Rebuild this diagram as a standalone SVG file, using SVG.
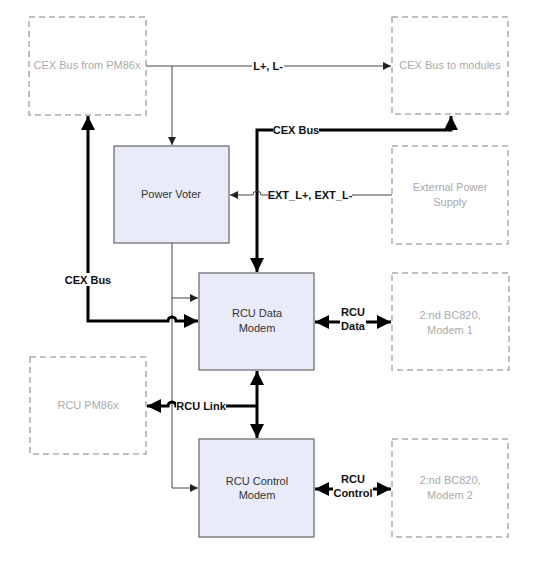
<svg xmlns="http://www.w3.org/2000/svg" width="549" height="575" viewBox="0 0 549 575">
<style>
.ext rect{fill:#fff;stroke:#aaa;stroke-width:1.5;stroke-dasharray:6,4}
.ext text{fill:#aaa;font-family:"Liberation Sans",Arial,sans-serif;font-size:11px;text-anchor:middle}
.mod rect{fill:#e9ecf8;stroke:#666;stroke-width:1.2}
.mod text{fill:#333;font-family:"Liberation Sans",Arial,sans-serif;font-size:11px;text-anchor:middle}
.thin{fill:none;stroke:#444;stroke-width:1}
.thick{fill:none;stroke:#000;stroke-width:3}
.lbl{font-family:"Liberation Sans",Arial,sans-serif;font-size:11px;font-weight:bold;fill:#111;text-anchor:middle}
.bg{fill:#fff}
</style>
<defs>
<marker id="as" viewBox="0 0 10 10" refX="10" refY="5" markerWidth="8" markerHeight="8" markerUnits="userSpaceOnUse" orient="auto-start-reverse"><path d="M0,0L10,5L0,10z" fill="#222"/></marker>
<marker id="al" viewBox="0 0 10 10" refX="10" refY="5" markerWidth="14" markerHeight="14" markerUnits="userSpaceOnUse" orient="auto-start-reverse"><path d="M0,0L10,5L0,10z" fill="#000"/></marker>
</defs>
<rect width="549" height="575" fill="#fff"/>
<g id="cex-from" class="ext"><rect x="29" y="17" width="117" height="98"/><text x="87" y="69">CEX Bus from PM86x</text></g>
<g id="cex-to" class="ext"><rect x="392" y="17" width="116" height="97"/><text x="450" y="69">CEX Bus to modules</text></g>
<g id="ext-power" class="ext"><rect x="392" y="146" width="116" height="98"/><text x="450" y="191">External Power</text><text x="450" y="206">Supply</text></g>
<g id="bc820-1" class="ext"><rect x="392" y="273" width="117" height="97"/><text x="450" y="319">2:nd BC820,</text><text x="450" y="334">Modem 1</text></g>
<g id="rcu-pm86x" class="ext"><rect x="30" y="357" width="116" height="97"/><text x="88" y="409">RCU PM86x</text></g>
<g id="bc820-2" class="ext"><rect x="392" y="439" width="116" height="98"/><text x="450" y="484">2:nd BC820,</text><text x="450" y="499">Modem 2</text></g>
<g id="power-voter" class="mod"><rect x="114" y="146" width="115" height="97"/><text x="171" y="198">Power Voter</text></g>
<g id="rcu-data" class="mod"><rect x="199" y="273" width="115" height="97"/><text x="257" y="317">RCU Data</text><text x="257" y="332">Modem</text></g>
<g id="rcu-control" class="mod"><rect x="199" y="439" width="115" height="98"/><text x="257" y="485">RCU Control</text><text x="257" y="499">Modem</text></g>
<g id="connectors">
<path class="thin" d="M146,66H391" marker-end="url(#as)"/>
<path class="thin" d="M172,66V145" marker-end="url(#as)"/>
<rect class="bg" x="252" y="59" width="32" height="13"/><text class="lbl" x="268" y="70">L+, L-</text>
<path class="thick" d="M257,272V130H451V116" marker-start="url(#al)" marker-end="url(#al)"/>
<rect class="bg" x="273" y="123" width="46" height="13"/><text class="lbl" x="296" y="134">CEX Bus</text>
<path class="thin" d="M392,195H261a4,4 0 0 0 -8,0H230" marker-end="url(#as)"/>
<rect class="bg" x="268" y="188" width="84" height="13"/><text class="lbl" x="310" y="199">EXT_L+, EXT_L-</text>
<path class="thin" d="M172,243V298H198" marker-end="url(#as)"/>
<path class="thin" d="M172,298V488H198" marker-end="url(#as)"/>
<path class="thick" d="M88,116V321H168a4,4 0 0 1 8,0H198" marker-start="url(#al)" marker-end="url(#al)"/>
<rect class="bg" x="64" y="273" width="48" height="13"/><text class="lbl" x="88" y="284">CEX Bus</text>
<path class="thick" d="M315,322H391" marker-start="url(#al)" marker-end="url(#al)"/>
<rect class="bg" x="340" y="303" width="26" height="29"/><text class="lbl" x="353" y="316">RCU</text><text class="lbl" x="353" y="330">Data</text>
<path class="thick" d="M315,489H391" marker-start="url(#al)" marker-end="url(#al)"/>
<rect class="bg" x="333" y="470" width="40" height="29"/><text class="lbl" x="353" y="483">RCU</text><text class="lbl" x="353" y="497">Control</text>
<path class="thick" d="M257,371V438" marker-start="url(#al)" marker-end="url(#al)"/>
<path class="thick" d="M257,406H176a4,4 0 0 0 -8,0H147" marker-end="url(#al)"/>
<rect class="bg" x="176" y="399" width="50" height="13"/><text class="lbl" x="201" y="410">RCU Link</text>
</g>
</svg>
